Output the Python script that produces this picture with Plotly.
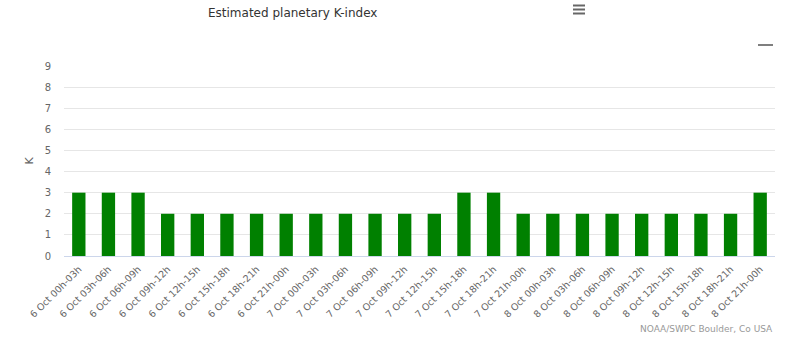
import plotly.graph_objects as go

categories = [
    "6 Oct 00h-03h", "6 Oct 03h-06h", "6 Oct 06h-09h", "6 Oct 09h-12h",
    "6 Oct 12h-15h", "6 Oct 15h-18h", "6 Oct 18h-21h", "6 Oct 21h-00h",
    "7 Oct 00h-03h", "7 Oct 03h-06h", "7 Oct 06h-09h", "7 Oct 09h-12h",
    "7 Oct 12h-15h", "7 Oct 15h-18h", "7 Oct 18h-21h", "7 Oct 21h-00h",
    "8 Oct 00h-03h", "8 Oct 03h-06h", "8 Oct 06h-09h", "8 Oct 09h-12h",
    "8 Oct 12h-15h", "8 Oct 15h-18h", "8 Oct 18h-21h", "8 Oct 21h-00h",
]
k_values = [3, 3, 3, 2, 2, 2, 2, 2, 2, 2, 2, 2, 2, 3, 3, 2, 2, 2, 2, 2, 2, 2, 2, 3]
y_ticks = list(range(0, 10))

fig = go.Figure(go.Bar(x=categories, y=k_values, marker=dict(color="#008000", line=dict(width=0)),
                       hoverinfo="x+y"))

font_family = "DejaVu Sans, sans-serif"

L, R, T, B = 64, 30, 66, 96
W, H = 805, 352
fig.update_layout(
    width=W, height=H,
    margin=dict(l=L, r=R, t=T, b=B),
    paper_bgcolor="white", plot_bgcolor="white",
    bargap=0.55,
    showlegend=False,
    font=dict(family=font_family, color="#666666", size=11),
    xaxis=dict(
        tickangle=-45, tickfont=dict(size=9.5, color="#666666"),
        showgrid=False, showline=True, linecolor="#ccd6eb", linewidth=1,
        ticks="", ticklabelstandoff=3, fixedrange=True,
    ),
    yaxis=dict(
        range=[0, 9], tickvals=y_ticks, showgrid=True, gridcolor="#e6e6e6",
        zeroline=False, showline=False, ticks="", ticklabelstandoff=12,
        tickfont=dict(size=10, color="#666666"),
        title=dict(text="K", font=dict(size=11, color="#666666"), standoff=8),
        fixedrange=True,
    ),
)

pw = W - L - R
ph = H - T - B
def px_to_paper(xp, yp):
    return (xp - L) / pw, (H - B - yp) / ph

tx, ty = px_to_paper(292, 13)
cx, cy = px_to_paper(775, 329)
fig.add_annotation(text="Estimated planetary K-index", x=tx, y=ty, xref="paper", yref="paper",
                   showarrow=False, xanchor="center", yanchor="middle",
                   font=dict(size=12, color="#333333"))
fig.add_annotation(text="NOAA/SWPC Boulder, Co USA", x=cx, y=cy, xref="paper", yref="paper",
                   showarrow=False, xanchor="right", yanchor="middle",
                   font=dict(size=9, color="#999999"))

# hamburger menu icon
for yy in (5.5, 9.5, 13.5):
    a0, b0 = px_to_paper(573, yy)
    a1, _ = px_to_paper(585, yy)
    fig.add_shape(type="line", x0=a0, x1=a1, y0=b0, y1=b0, xref="paper", yref="paper",
                  line=dict(color="#666666", width=2))

# minimize mark
x0, y0 = px_to_paper(758, 45)
x1, _ = px_to_paper(773, 45)
fig.add_shape(type="line", x0=x0, x1=x1, y0=y0, y1=y0, xref="paper", yref="paper",
              line=dict(color="#555555", width=1.5))

fig.write_html("out.html", config={"displayModeBar": False})
